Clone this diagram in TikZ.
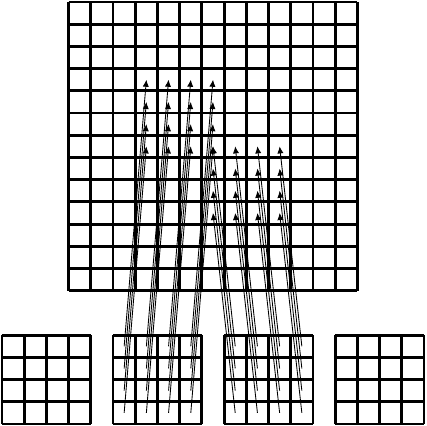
\documentclass[tikz,border=0pt]{standalone}
\usetikzlibrary{arrows.meta}

\begin{document}
\begin{tikzpicture}[scale=0.5,
    gridline/.style={line width=1.8pt},
    feed/.style={line width=0.55pt, -{Latex[length=4.5pt,width=4pt]}}]
    \useasboundingbox (-0.09,-0.09) rectangle (19.09,19.09);
    % output grid
    \draw[gridline] (3,6) grid (16,19);
    % input grids
    \foreach \x in {0,5,10,15}
        \draw[gridline] (\x,0) grid (\x+4,4);
    % cell centres and arrows
    \foreach \i in {0,...,3}
        \foreach \j in {0,...,3} {
            \coordinate (a\i\j) at (5.5+\i,0.5+\j);
            \coordinate (b\i\j) at (10.5+\i,0.5+\j);
            \coordinate (p\i\j) at (6.5+\i,12.5+\j);
            \coordinate (q\i\j) at (9.5+\i,9.5+\j);
            \draw[feed] (a\i\j) -- (p\i\j);
            \draw[feed] (b\i\j) -- (q\i\j);
        }
\end{tikzpicture}
\end{document}
